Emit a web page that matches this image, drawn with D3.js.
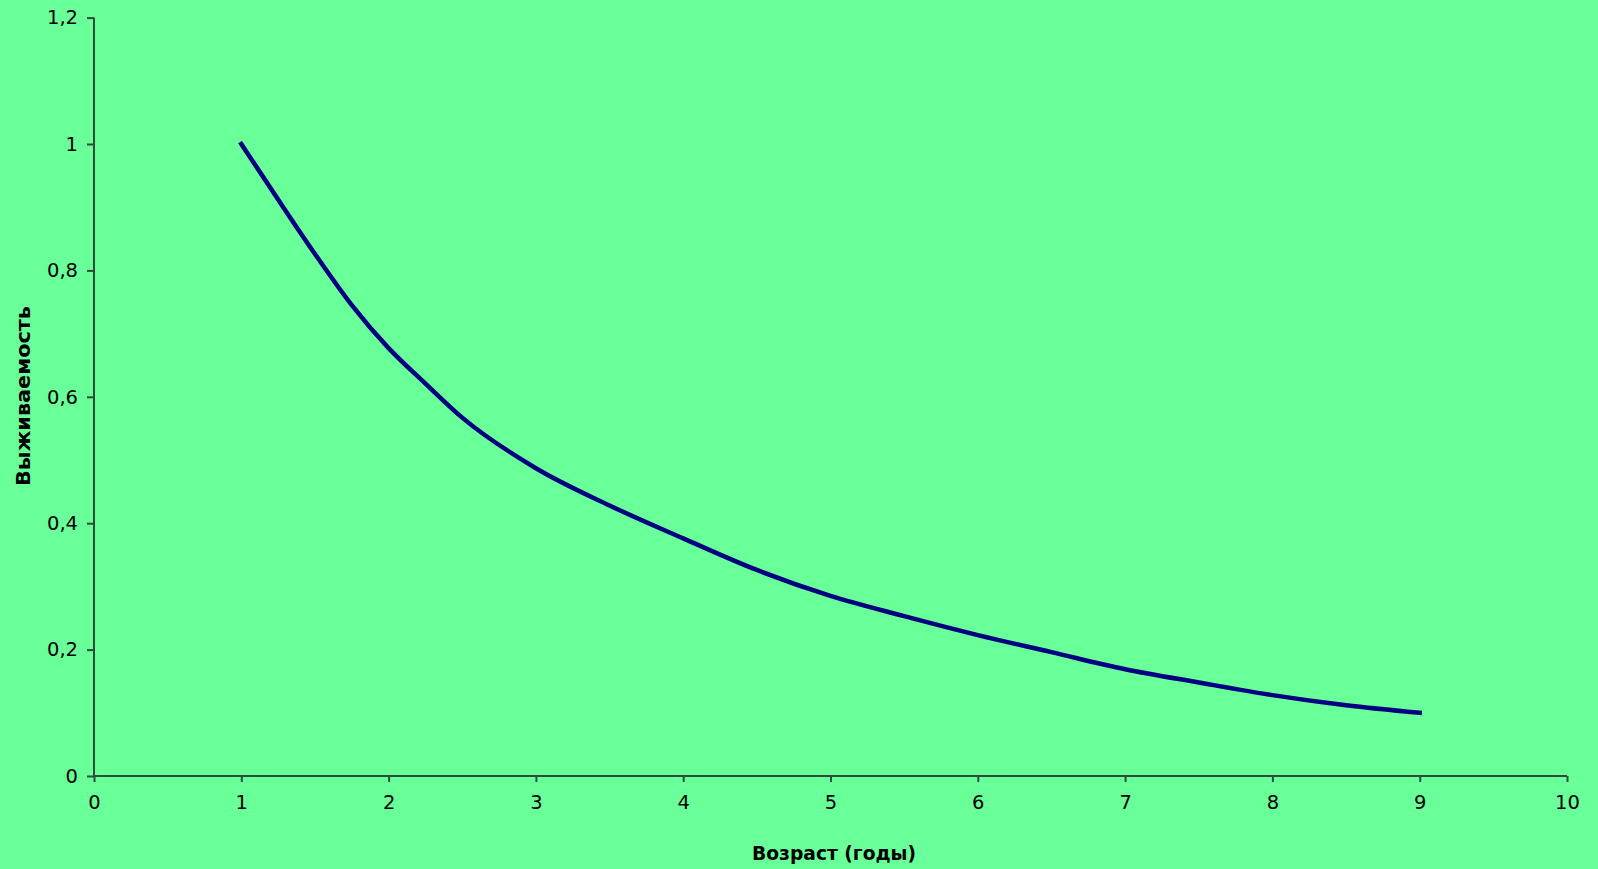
<!DOCTYPE html>
<html><head><meta charset="utf-8">
<script src="https://cdn.jsdelivr.net/npm/d3@7"></script>
<style>html,body{margin:0;padding:0;background:#69FF99;overflow:hidden}</style>
</head><body><svg id="c" width="1598" height="869"></svg>
<script>
const ages = [1, 1.25, 1.5, 1.75, 2, 2.25, 2.5, 3, 3.5, 4, 4.5, 5, 5.5, 6, 6.5, 7, 7.5, 8, 8.5, 9];
const survival = [1.0, 0.912, 0.826, 0.745, 0.677, 0.621, 0.567, 0.487, 0.428, 0.376, 0.326, 0.285, 0.253, 0.223, 0.196, 0.169, 0.148, 0.128, 0.112, 0.100];
const xTicks = [0,1,2,3,4,5,6,7,8,9,10];
const yTicks = [0,0.2,0.4,0.6,0.8,1,1.2];
const yTickLabels = ["0","0,2","0,4","0,6","0,8","1","1,2"];
const xTitle = "Возраст (годы)";
const yTitle = "Выживаемость";

const svg = d3.select("#c");
svg.append("rect").attr("width",1598).attr("height",869).attr("fill","#69FF99");
const x = d3.scaleLinear().domain([0,10]).range([94,1567]);
const y = d3.scaleLinear().domain([0,1.2]).range([776,17.6]);
const axisColor = "#2F4B3B";
const font = "'DejaVu Sans', Verdana, sans-serif";

const gx = svg.append("g").attr("transform","translate(0,776)")
  .call(d3.axisBottom(x).tickValues(xTicks).tickSize(6).tickPadding(13).tickFormat(d=>String(d)));
const gy = svg.append("g").attr("transform","translate(94,0)")
  .call(d3.axisLeft(y).tickValues(yTicks).tickSize(7).tickPadding(9).tickFormat((d,i)=>yTickLabels[i]));
[gx,gy].forEach(g=>{
  g.select(".domain").attr("stroke",axisColor).attr("stroke-width",2);
  g.selectAll(".tick line").attr("stroke",axisColor).attr("stroke-width",2);
  g.selectAll(".tick text").attr("fill","#000").style("font-family",font).style("font-size","19.5px");
});
gx.select(".domain").attr("d","M94,0H1567");
gy.select(".domain").attr("d","M0,17.6V776");

const line = d3.line().x((d,i)=>x(ages[i])).y(d=>y(d)).curve(d3.curveMonotoneX);
svg.append("path").datum(survival).attr("d",line).attr("fill","none")
  .attr("stroke","#000080").attr("stroke-width",4.5).attr("stroke-linejoin","round").attr("stroke-linecap","square");

svg.append("text").attr("x",834).attr("y",860).attr("text-anchor","middle")
  .attr("textLength",164).attr("lengthAdjust","spacingAndGlyphs")
  .style("font-family",font).style("font-size","19px").style("font-weight","bold").text(xTitle);
svg.append("text").attr("transform","translate(30,396) rotate(-90)").attr("text-anchor","middle")
  .attr("textLength",180).attr("lengthAdjust","spacingAndGlyphs")
  .style("font-family",font).style("font-size","19px").style("font-weight","bold").text(yTitle);
</script></body></html>
